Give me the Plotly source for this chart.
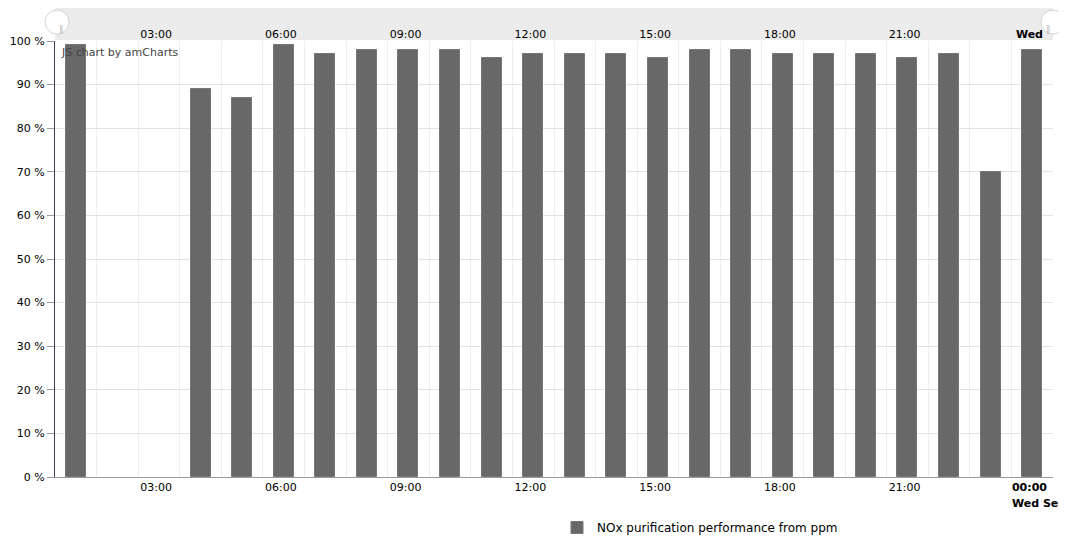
import plotly.graph_objects as go
import pandas as pd

# ---- data ----
hours = ["2016-09-13 01:00", "2016-09-13 02:00", "2016-09-13 03:00", "2016-09-13 04:00",
         "2016-09-13 05:00", "2016-09-13 06:00", "2016-09-13 07:00", "2016-09-13 08:00",
         "2016-09-13 09:00", "2016-09-13 10:00", "2016-09-13 11:00", "2016-09-13 12:00",
         "2016-09-13 13:00", "2016-09-13 14:00", "2016-09-13 15:00", "2016-09-13 16:00",
         "2016-09-13 17:00", "2016-09-13 18:00", "2016-09-13 19:00", "2016-09-13 20:00",
         "2016-09-13 21:00", "2016-09-13 22:00", "2016-09-13 23:00", "2016-09-14 00:00"]
nox_perf = [99, None, None, 89, 87, 99, 97, 98, 98, 98, 96, 97, 97, 97, 96, 98,
            98, 97, 97, 97, 96, 97, 70, 98]
series_name = "NOx purification performance from ppm"

tick_times = ["2016-09-13 03:00", "2016-09-13 06:00", "2016-09-13 09:00", "2016-09-13 12:00",
              "2016-09-13 15:00", "2016-09-13 18:00", "2016-09-13 21:00", "2016-09-14 00:00"]
tick_labels = ["03:00", "06:00", "09:00", "12:00", "15:00", "18:00", "21:00", "<b>00:00</b>"]
top_tick_labels = ["03:00", "06:00", "09:00", "12:00", "15:00", "18:00", "21:00", "<b>Wed</b>"]
day_label = "Wed Sep"
x_range = ["2016-09-13 01:00", "2016-09-14 01:00"]

# ---- geometry (reference page pixels; page body has an 8px margin) ----
PAGE_OFF = 8
W, H = 1067 - PAGE_OFF, 547 - PAGE_OFF
PL, PR, PT, PB = 55, 1053, 41, 477          # plot box in reference pixels
L = PL - PAGE_OFF
R = W - (PR - PAGE_OFF)
T = PT - PAGE_OFF
B = H - (PB - PAGE_OFF)


def px(x):
    return (x - PL) / (PR - PL)


def py(y):
    return (PB - y) / (PB - PT)


offset = pd.Timedelta(minutes=26)
tickvals = [(pd.Timestamp(t) + offset).strftime("%Y-%m-%d %H:%M:%S") for t in tick_times]

font = "DejaVu Sans, Verdana, sans-serif"

fig = go.Figure()
fig.add_trace(go.Bar(
    x=hours, y=nox_perf, name=series_name,
    xperiod=3600000, xperiodalignment="middle",
    width=0.48 * 3600000,
    marker=dict(color="#686868", line=dict(color="#767676", width=1)),
    showlegend=True,
))
fig.add_trace(go.Scatter(x=[x_range[0]], y=[None], xaxis="x2", showlegend=False,
                         hoverinfo="skip"))

shapes = [
    dict(type="rect", xref="paper", yref="paper", x0=0, x1=1, y0=py(40), y1=py(7),
         fillcolor="#ececec", line=dict(width=0), layer="below"),
]
for cx in (57, 1053):
    shapes.append(dict(type="circle", xref="paper", yref="paper",
                       xsizemode="pixel", ysizemode="pixel",
                       xanchor=px(cx), yanchor=py(22),
                       x0=-12, x1=12, y0=-12, y1=12,
                       fillcolor="white", line=dict(color="#d4d4d4", width=1),
                       layer="above"))

annotations = [
    dict(text="JS chart by amCharts", xref="paper", yref="paper", x=px(59), y=py(52),
         xanchor="left", yanchor="middle", showarrow=False,
         font=dict(family=font, size=11, color="#444")),
    dict(text="<b>" + day_label + "</b>", xref="x", yref="paper",
         x=tick_times[-1], y=py(PB + 27), xanchor="left", yanchor="middle",
         showarrow=False, xshift=-1, font=dict(family=font, size=11, color="#000")),
]
for cx in (57, 1053):
    annotations.append(dict(text="‖", xref="paper", yref="paper", x=px(cx), y=py(22),
                            showarrow=False, font=dict(family=font, size=9, color="#bbb")))

fig.update_layout(
    width=W, height=H,
    margin=dict(l=L, r=R, t=T, b=B, autoexpand=False),
    paper_bgcolor="white", plot_bgcolor="white",
    font=dict(family=font, size=11, color="#000"),
    bargap=0,
    xaxis=dict(
        type="date", range=x_range,
        tickvals=tickvals, ticktext=tick_labels,
        showgrid=False, ticks="", tickfont=dict(size=11, color="#000"),
        showline=True, linecolor="#9a9a9a", linewidth=1,
        minor=dict(dtick=3600000, tick0="2016-09-13 00:00", showgrid=True,
                   gridcolor="#eeeeee", gridwidth=1),
        zeroline=False, fixedrange=True, automargin=False,
    ),
    xaxis2=dict(
        type="date", range=x_range, overlaying="x", side="top",
        tickvals=tickvals, ticktext=top_tick_labels,
        showgrid=False, ticks="", showline=False, matches="x",
        tickfont=dict(size=11, color="#000"), automargin=False,
    ),
    yaxis=dict(
        range=[0, 100], dtick=10, ticksuffix=" %",
        showgrid=True, gridcolor="#e3e3e3", gridwidth=1,
        showline=True, linecolor="#3f3f5f", linewidth=1,
        ticks="outside", ticklen=7, tickcolor="#9a9a9a",
        tickfont=dict(size=11, color="#000"), zeroline=False, automargin=False,
    ),
    legend=dict(orientation="h", x=px(557), xanchor="left", y=py(513), yanchor="top",
                font=dict(family=font, size=12, color="#000"), bgcolor="rgba(0,0,0,0)"),
    shapes=shapes,
    annotations=annotations,
)

fig.write_html("out.html")
